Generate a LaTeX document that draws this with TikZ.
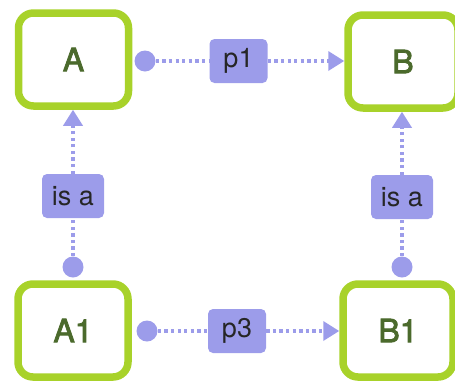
\documentclass[tikz,border=0pt]{standalone}
\usepackage{fontspec}
\setmainfont{TeX Gyre Heros}
\newfontfamily\boxfont[FakeBold=2.5]{TeX Gyre Heros}
\usetikzlibrary{arrows.meta}
\definecolor{boxgreen}{HTML}{A8D22A}
\definecolor{txtgreen}{HTML}{4B6A2C}
\definecolor{relpurple}{HTML}{9C9CEA}
\tikzset{
  box/.style={draw=boxgreen, line width=7.5pt, fill=white, rounded corners=15pt,
    minimum width=110pt, minimum height=93pt, inner sep=0pt,
    text=txtgreen, font=\boxfont\fontsize{32}{36}\selectfont},
  lbl/.style={fill=relpurple, rounded corners=5pt, minimum width=58pt,
    minimum height=44pt, inner sep=0pt, text=black!85,
    font=\fontsize{27}{30}\selectfont},
  dotnode/.style={circle, fill=relpurple, minimum size=21pt, inner sep=0pt},
  rel/.style={draw=relpurple, line width=3.5pt, dash pattern=on 3.3pt off 3.3pt},
  relarrow/.style={rel, -{Triangle[length=16pt,width=19pt]}},
}
\begin{document}
\begin{tikzpicture}[x=1pt,y=-1pt]
\useasboundingbox (0,0) rectangle (455,381);
\node[box] (A)  at (73.5,59.5) {A};
\node[box] (B)  at (403,61.5) {B};
\node[box] (A1) at (73,330.5) {A1};
\node[box] (B1) at (398,330.5) {B1};
\node[dotnode] (dA)  at (145,61) {};
\node[dotnode] (dA1) at (147,331) {};
\node[dotnode] (dAv) at (73,267) {};
\node[dotnode] (dBv) at (402,267) {};
\node[lbl] (p1)  at (238.5,61) {p1};
\node[lbl] (p3)  at (237,331) {p3};
\node[lbl, minimum width=62pt] (isa1) at (73,196) {is a};
\node[lbl, minimum width=62pt] (isa2) at (402,197) {is a};
\draw[rel] (dA) -- (p1);
\draw[relarrow] (p1) -- (B.west |- p1);
\draw[rel] (dA1) -- (p3);
\draw[relarrow] (p3) -- (B1.west |- p3);
\draw[rel] (dAv) -- (isa1);
\draw[relarrow] (isa1) -- (isa1 |- A.south);
\draw[rel] (dBv) -- (isa2);
\draw[relarrow] (isa2) -- (isa2 |- B.south);
\end{tikzpicture}
\end{document}
